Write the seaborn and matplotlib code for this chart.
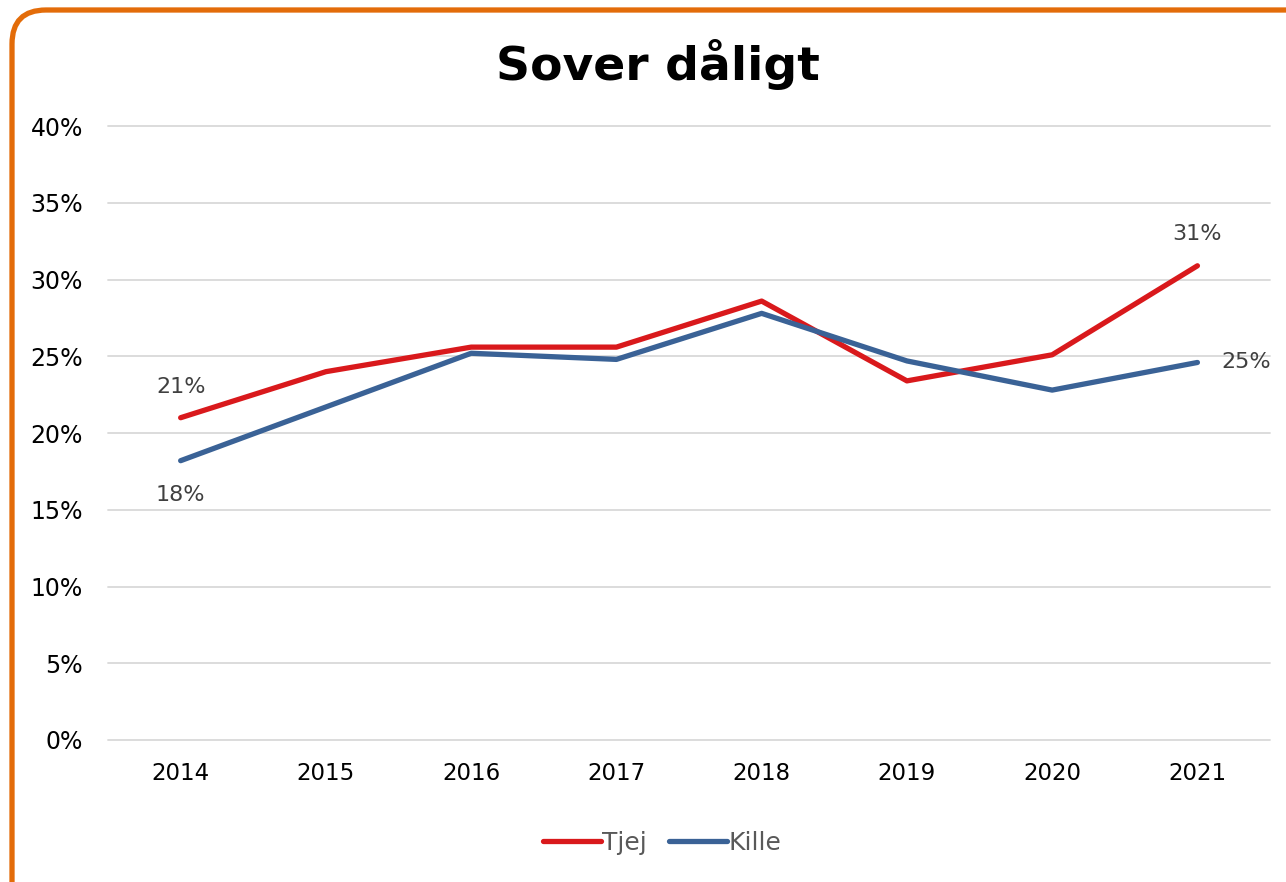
import matplotlib.pyplot as plt
import matplotlib.patches as mpatches
from matplotlib.transforms import IdentityTransform
from matplotlib.ticker import PercentFormatter
import pandas as pd
import seaborn as sns

years = [2014, 2015, 2016, 2017, 2018, 2019, 2020, 2021]
tjej = [21.0, 24.0, 25.6, 25.6, 28.6, 23.4, 25.1, 30.9]
kille = [18.2, 21.7, 25.2, 24.8, 27.8, 24.7, 22.8, 24.6]

df = pd.DataFrame({"År": years * 2,
                   "Andel": tjej + kille,
                   "Kön": ["Tjej"] * len(years) + ["Kille"] * len(years)})

sns.set_style("white")
plt.rcParams["font.family"] = ["DejaVu Sans"]

fig = plt.figure(figsize=(12.86, 8.82), dpi=100)
ax = fig.add_axes([0.084, 0.161, 0.9036, 0.696])

sns.lineplot(data=df, x="År", y="Andel", hue="Kön",
             palette={"Tjej": "#D9191C", "Kille": "#3A6296"},
             linewidth=3.8, ax=ax, legend=False)
for line in ax.lines:
    line.set_solid_capstyle("round")
    line.set_solid_joinstyle("round")

ax.set_xlim(2013.5, 2021.5)
ax.set_ylim(0, 40)
ax.set_xticks(years)
ax.set_yticks(range(0, 41, 5))
ax.yaxis.set_major_formatter(PercentFormatter(decimals=0))
ax.grid(axis="y", color="#D9D9D9", linewidth=1.3)
for gl in ax.get_ygridlines():
    gl.set_clip_on(False)
ax.set_axisbelow(True)
for s in ax.spines.values():
    s.set_visible(False)
ax.tick_params(axis="y", length=0, labelsize=17, colors="black", pad=18)
ax.tick_params(axis="x", length=0, labelsize=16.5, colors="black", pad=16)
ax.set_xlabel("")
ax.set_ylabel("")

lab = dict(fontsize=16, color="#404040", ha="center", va="center",
           textcoords="offset points")
ax.annotate(f"{tjej[0]:.0f}%", (years[0], tjej[0]), xytext=(0, 22), **lab)
ax.annotate(f"{kille[0]:.0f}%", (years[0], kille[0]), xytext=(0, -25), **lab)
ax.annotate(f"{tjej[-1]:.0f}%", (years[-1], tjej[-1]), xytext=(0, 23), **lab)
ax.annotate(f"{kille[-1]:.0f}%", (years[-1], kille[-1]), xytext=(35, 0), **lab)

fig.text(0.512, 0.927, "Sover dåligt", fontsize=34, fontweight="bold",
         color="black", ha="center", va="center")

handles = [plt.Line2D([], [], color="#D9191C", lw=3.8, solid_capstyle="round"),
           plt.Line2D([], [], color="#3A6296", lw=3.8, solid_capstyle="round")]
leg = fig.legend(handles, ["Tjej", "Kille"], loc="center",
                 bbox_to_anchor=(0.515, 0.044), ncol=2, frameon=False,
                 fontsize=18, handlelength=2.3, handletextpad=0.05,
                 columnspacing=0.9)
for t in leg.get_texts():
    t.set_color("#595959")

border = mpatches.FancyBboxPatch((12, -40), 1320, 912,
                                 boxstyle="round,pad=0,rounding_size=34",
                                 transform=IdentityTransform(),
                                 facecolor="none", edgecolor="#E36C09",
                                 linewidth=3.8)
fig.patches.append(border)

fig.savefig("out.png", dpi=100)
